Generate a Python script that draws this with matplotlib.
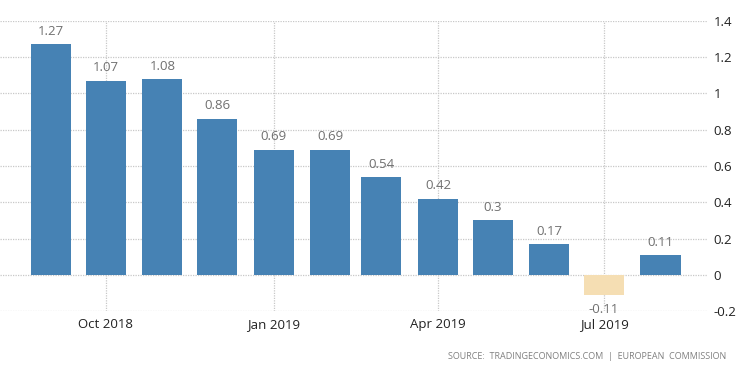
import matplotlib
matplotlib.use("Agg")
import matplotlib.pyplot as plt
from datetime import datetime

plt.rcParams['font.family'] = ['Open Sans', 'DejaVu Sans']

months = ['2018-09', '2018-10', '2018-11', '2018-12', '2019-01', '2019-02',
          '2019-03', '2019-04', '2019-05', '2019-06', '2019-07', '2019-08']
values = [1.27, 1.07, 1.08, 0.86, 0.69, 0.69, 0.54, 0.42, 0.3, 0.17, -0.11, 0.11]
labels = ['1.27', '1.07', '1.08', '0.86', '0.69', '0.69', '0.54', '0.42', '0.3', '0.17', '-0.11', '0.11']
tick_months = ['2018-10', '2019-01', '2019-04', '2019-07']
tick_labels = ['Oct 2018', 'Jan 2019', 'Apr 2019', 'Jul 2019']
yticks = [-0.2, 0, 0.2, 0.4, 0.6, 0.8, 1, 1.2, 1.4]

dates = [datetime.strptime(m, '%Y-%m') for m in months]
colors = ['#4682b4' if v >= 0 else '#f5deb3' for v in values]

fig = plt.figure(figsize=(7.5, 3.73), dpi=100)
ax = fig.add_axes([0.0, 0.166, 0.944, 0.778])

ax.bar(dates, values, width=22, color=colors, zorder=3)

# value labels above / below bars
for d, v, lab in zip(dates, values, labels):
    if v >= 0:
        ax.text(d, v + 0.035, lab, ha='center', va='bottom', fontsize=9.5, color='#707070', zorder=4)
    else:
        ax.text(d, v - 0.045, lab, ha='center', va='top', fontsize=9.5, color='#707070', zorder=4)

ax.set_xlim(datetime(2018, 8, 4), datetime(2019, 8, 27))
ax.set_ylim(-0.2, 1.4)

ax.set_xticks([datetime.strptime(m, '%Y-%m') for m in tick_months])
ax.set_xticklabels(tick_labels)
ax.set_yticks(yticks)
ax.set_yticklabels([('%g' % t) for t in yticks])
ax.yaxis.tick_right()

ax.tick_params(axis='both', length=0, labelsize=9.5, colors='#222222')
ax.tick_params(axis='y', pad=4)
ax.tick_params(axis='x', pad=5)

ax.grid(True, color='#c8c8c8', linestyle=(0, (1, 1)), linewidth=0.9, zorder=0)
for s in ax.spines.values():
    s.set_visible(False)

fig.text(0.968, 0.045, 'SOURCE:  TRADINGECONOMICS.COM  |  EUROPEAN  COMMISSION',
         ha='right', va='center', fontsize=6.5, color='#808080')

fig.savefig('out.png', dpi=100)
